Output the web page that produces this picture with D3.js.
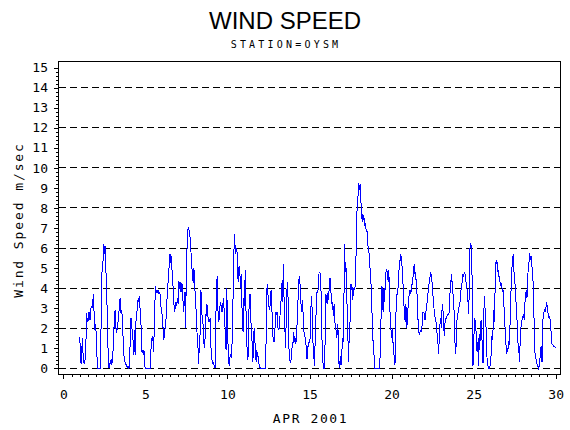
<!DOCTYPE html>
<html>
<head>
<meta charset="utf-8">
<script src="https://cdn.jsdelivr.net/npm/d3@7"></script>
<style>
  body { margin: 0; background: #fff; }
  svg { display: block; background: #fff; }
  .mono { font-family: "DejaVu Sans Mono", monospace; }
</style>
</head>
<body>
<svg id="chart" width="570" height="430"></svg>
<script>
// hourly wind speed, m/sec. first value = 1 Apr 2001 00:00
const speedPart1 = [ // Apr 1 00h - Apr 8 00h
  1.58,0.9,0.2,0.9,1.5,0.6,0.3,0.2,0.5,1.1,
  2.75,2.4,2.3,2.8,2.8,2.4,2.9,3.1,3.0,3.3,
  3.7,2.8,1.9,2.2,1.8,0.8,0,0,0,0,
  0,1.5,4.5,5.0,5.3,6.2,5.7,6.1,5.3,4.1,
  3.1,1.5,0.25,0,0.2,0.33,0.4,0.17,0.6,1.0,
  1.9,2.8,2.9,2.0,1.75,2.0,2.3,2.7,3.0,3.5,
  2.75,2.9,2.7,1.9,1.0,0.5,0.33,0.2,0.17,0.1,
  0.05,0,0.1,0,1.9,2.5,2.0,1.9,1.4,0.67,
  1.9,0.67,2.2,2.7,2.9,3.4,3.3,3.6,3.1,2.5,
  2.0,0.8,0.9,0.67,0.9,0.1,0,0,0,0,
  0,0,0,0,0.75,1.5,1.35,1.6,0.8,2.0,
  3.3,4.1,3.75,3.9,3.8,3.9,3.7,3.8,3.6,3.0,
  2.8,2.6,1.9,1.4,1.8,2.0,2.3,3.0,3.7,4.2,
  4.75,5.2,5.7,5.25,5.6,4.9,4.4,3.7,3.1,2.8,
  3.3,3.1,3.2,3.5,3.2,4.3,4.25,3.8,4.3,3.8,
  4.2,3.4,2.8,3.4,3.8,2.0,5.6,6.0,6.9,7.0,
  6.9,6.8,6.0,5.7,5.1,4.5,4.25,5.0,4.4
];
const speedPart2 = [ // Apr 8 01h - Apr 15 14h
  3.5,3.0,2.0,1.6,1.0,0.2,1.5,1.7,3.9,3.6,
  2.5,2.3,2.0,1.0,1.1,2.7,2.6,3.2,2.8,2.4,
  2.3,2.4,2.5,1.0,0.6,0.2,0.3,0.2,0.1,0,
  2.4,3.9,4.6,3.0,2.3,2.5,3.1,3.3,3.1,2.8,
  3.0,3.5,3.0,2.4,1.7,0.9,4.0,2.5,1.0,0.3,
  0.1,0.7,0.6,0.5,1.5,3.2,4.8,6.7,6.2,5.7,
  6.0,5.8,4.6,4.3,5.1,5.0,4.0,4.7,3.5,2.0,
  1.8,3.5,3.1,4.9,3.1,1.7,0.7,0.4,2.0,3.7,
  3.7,2.3,2.2,1.3,0.3,0.8,2.0,1.5,0.8,0.3,
  0.9,0.6,0.6,0.25,0.1,0,0,0,0,0,
  0,0,0,0.3,2.5,4.2,3.9,3.2,3.0,2.9,
  3.7,3.9,3.1,1.7,1.5,1.3,1.5,2.4,2.8,2.7,
  2.8,2.0,1.9,2.1,2.7,3.2,3.7,4.4,3.3,5.2,
  3.0,2.0,1.0,2.5,3.9,4.3,3.0,1.0,0.4,0.3,
  0.4,0.8,1.3,1.3,1.8,1.3,1.5,1.2,1.6,2.4,
  3.2,4.2,4.6,4.3,3.5,3.0,2.8,3.4,2.3,1.8,
  1.6,1.5,1.1,0.5,0.5,1.2,1.3,1.3,1.5,3.0,
  3.6,2.8,1.3,1.0,0.1,1.1,1.5,3.7,3.8,3.8,
  4.0,4.8
];
const speedPart3 = [ // Apr 15 15h - Apr 22 21h
  4.8,4.7,3.7,1.8,0.6,0.17,0,0,1.7,3.7,
  3.3,3.2,3.75,3.4,4.2,4.5,4.25,3.25,3.3,3.1,
  2.6,3.2,2.3,2.2,1.8,1.5,2.2,1.8,0.25,0,
  0.6,0.17,0.3,1.5,1.3,1.5,6.2,4.8,5.3,4.5,
  3.0,1.8,0.33,1.5,1.7,4.2,3.9,4.2,3.4,3.7,
  4.0,3.9,4.2,5.6,7.5,8.2,8.6,9.25,8.9,9.2,
  8.4,8.0,7.3,7.7,7.4,7.5,7.1,7.25,6.8,6.9,
  6.5,5.8,5.75,5.3,4.7,4.2,3.3,2.0,1.3,1.0,
  0,0,0,0,0,0,0,0,0.33,2.1,
  2.7,4.1,3.0,2.8,4.0,3.3,4.7,4.8,4.9,4.8,
  4.3,4.9,3.7,2.5,2.0,1.5,2.0,1.3,1.2,0.3,
  0.17,2.3,3.3,3.7,3.9,4.2,5.0,5.2,5.7,5.6,
  5.25,4.7,4.0,3.2,2.7,2.3,3.2,2.0,2.25,3.0,
  3.5,3.7,3.9,3.7,4.0,4.2,4.5,4.7,5.2,4.7,
  4.8,4.3,4.0,2.7,2.3,1.75,1.7,1.9,1.8,1.9,
  2.3,2.8,2.8,2.7,2.4,2.8,3.0,3.3,3.7,3.9,
  4.3,4.5,4.75,4.7,4.4,3.75,3.5,3.0,2.7,2.4,
  2.3,2.0,1.5,1.2,0.7
];
const speedPart4 = [ // Apr 22 22h - Apr 30 00h
  2.0,2.25,2.5,2.0,3.2,3.0,2.5,1.6,2.2,2.5,
  2.5,2.6,2.7,2.7,2.75,3.2,4.4,4.3,4.7,3.75,
  3.7,3.6,1.3,1.25,0.7,2.2,2.5,2.7,3.0,3.1,
  3.25,3.7,4.1,4.25,4.7,4.6,4.7,4.8,4.6,4.25,
  4.1,3.7,3.2,2.7,5.6,6.2,6.25,5.8,4.0,0.1,
  0.7,2.5,2.4,2.0,1.75,0.8,1.3,0.1,1.7,0.9,
  2.3,2.4,1.8,0.33,0.25,2.9,3.6,2.7,2.2,0.8,
  0.33,0.1,0,0,0.1,0.33,1.0,1.7,1.4,2.9,
  2.3,3.2,5.3,5.2,5.4,4.8,4.9,4.6,4.4,4.25,
  4.1,4.25,3.8,3.9,3.5,2.5,2.0,1.4,0.7,1.0,
  0.8,1.3,1.25,1.9,3.3,4.1,5.0,5.5,5.7,4.8,
  4.4,4.0,3.3,2.75,2.0,1.2,1.0,0.33,1.3,2.0,
  2.2,2.5,2.6,2.7,2.4,3.25,3.6,3.9,3.5,4.3,
  5.2,5.3,5.75,5.4,5.6,5.2,4.8,4.25,3.0,1.3,
  0.6,0.5,0.33,0.17,0.1,0,0.1,0.5,1.0,1.1,
  0.33,2.3,2.7,2.8,2.9,2.8,3.1,3.3,2.9,2.7,
  2.5,2.6,2.4,2.0,1.25,1.2,1.15,1.1,1.1,1.05,
  1.05
];
const firstDay = 1;           // day of month of the first reading
const hoursPerDay = 24;

const yTicks = [0,1,2,3,4,5,6,7,8,9,10,11,12,13,14,15];
const xTicks = [0,5,10,15,20,25,30];
const refLines = [0,2,4,6,8,10,12,14];

const titleText = 'WIND SPEED';
const stationText = 'STATION=OYSM';
const yLabelText = 'Wind Speed m/sec';
const xLabelText = 'APR 2001';

const speed = speedPart1.concat(speedPart2, speedPart3, speedPart4);
const series = speed.map((v, i) => ({ day: firstDay + i / hoursPerDay, v: v }));

const svg = d3.select('#chart');

// frame of the plot area
const frame = { left: 58.5, right: 560.5, top: 61.5, bottom: 374 };

const x = d3.scaleLinear().domain([0, 30]).range([63.3, 555.7]);
const y = d3.scaleLinear().domain([0, 15]).range([368.3, 67.6]);

// titles
svg.append('text')
    .attr('x', 285).attr('y', 29)
    .attr('text-anchor', 'middle')
    .style('font-family', '"Liberation Sans", Arial, sans-serif')
    .style('font-size', '24px')
    .text(titleText);

svg.append('text')
    .attr('class', 'mono')
    .attr('x', 286).attr('y', 47.5)
    .attr('text-anchor', 'middle')
    .style('font-size', '10px')
    .style('letter-spacing', '3.2px')
    .text(stationText);

// dashed reference lines
svg.append('g')
    .selectAll('line')
    .data(refLines)
    .join('line')
    .attr('x1', frame.left).attr('x2', frame.right)
    .attr('y1', d => y(d)).attr('y2', d => y(d))
    .attr('stroke', '#000')
    .attr('stroke-dasharray', '7,4')
    .attr('shape-rendering', 'crispEdges');

// the series
const line = d3.line()
    .x(d => x(d.day))
    .y(d => y(d.v));

svg.append('path')
    .datum(series)
    .attr('d', line)
    .attr('fill', 'none')
    .attr('stroke', '#0000ff')
    .attr('stroke-width', 1)
    .attr('shape-rendering', 'crispEdges');

// box
svg.append('rect')
    .attr('x', frame.left).attr('y', frame.top)
    .attr('width', frame.right - frame.left)
    .attr('height', frame.bottom - frame.top)
    .attr('fill', 'none')
    .attr('stroke', '#000')
    .attr('shape-rendering', 'crispEdges');

// y axis, majors + minors
const yMinor = d3.range(0, 76).filter(i => i % 5 !== 0).map(i => i / 5);

const gy = svg.append('g')
    .attr('transform', `translate(${frame.left},0)`)
    .call(d3.axisLeft(y).tickValues(yTicks).tickSize(5).tickPadding(5.5).tickFormat(d3.format('d')));
svg.append('g')
    .attr('transform', `translate(${frame.left},0)`)
    .call(d3.axisLeft(y).tickValues(yMinor).tickSize(2.5).tickFormat(''));

// x axis
const xMinor = d3.range(0, 61).filter(i => i % 10 !== 0).map(i => i / 2);

const gx = svg.append('g')
    .attr('transform', `translate(0,${frame.bottom})`)
    .call(d3.axisBottom(x).tickValues(xTicks).tickSize(5).tickPadding(10.5).tickFormat(d3.format('d')));
svg.append('g')
    .attr('transform', `translate(0,${frame.bottom})`)
    .call(d3.axisBottom(x).tickValues(xMinor).tickSize(3).tickFormat(''));

svg.selectAll('.domain').remove();
svg.selectAll('.tick line').attr('stroke', '#000').attr('shape-rendering', 'crispEdges');
svg.selectAll('.tick text')
    .attr('class', 'mono')
    .attr('fill', '#000')
    .style('font-size', '13px');
gy.attr('font-family', null).attr('font-size', null);
gx.attr('font-family', null).attr('font-size', null);

// axis titles
svg.append('text')
    .attr('class', 'mono')
    .attr('transform', 'translate(18,220) rotate(-90)')
    .attr('text-anchor', 'middle')
    .attr('dy', '0.35em')
    .style('font-size', '13px')
    .style('letter-spacing', '1.9px')
    .text(yLabelText);

svg.append('text')
    .attr('class', 'mono')
    .attr('x', 310.5).attr('y', 422.7)
    .attr('text-anchor', 'middle')
    .style('font-size', '13px')
    .style('letter-spacing', '1.6px')
    .text(xLabelText);
</script>
</body>
</html>
